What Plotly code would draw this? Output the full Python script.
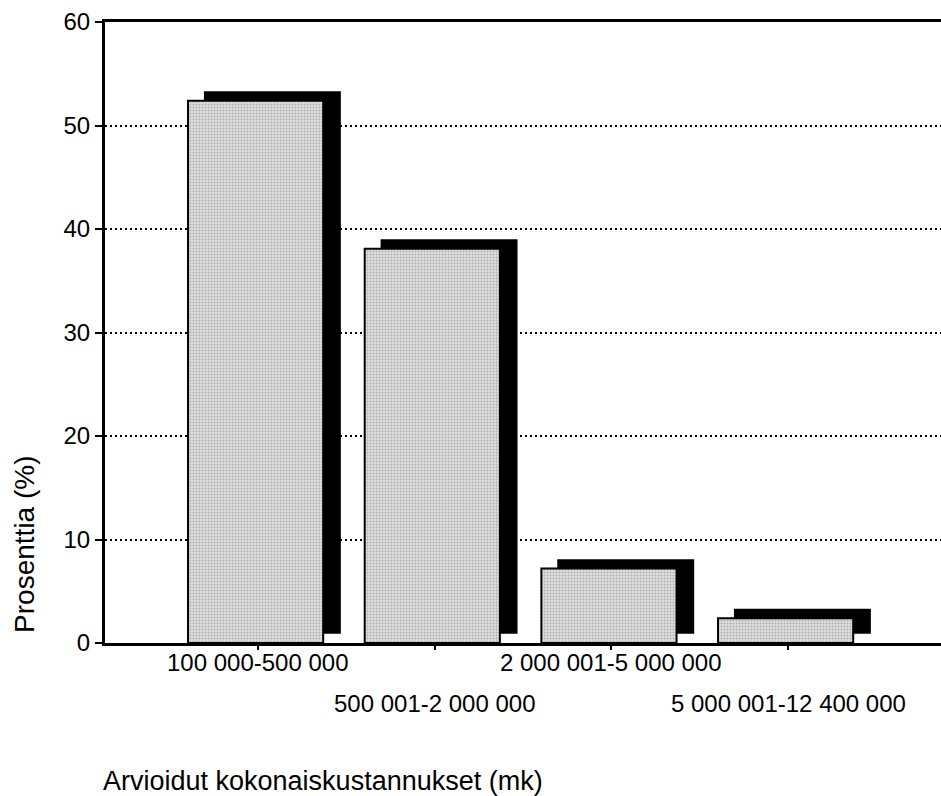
import plotly.graph_objects as go

categories = ["100 000-500 000", "500 001-2 000 000", "2 000 001-5 000 000", "5 000 001-12 400 000"]
values = [52.4, 38.1, 7.2, 2.4]
label_rows = [0, 1, 0, 1]
y_ticks = [0, 10, 20, 30, 40, 50, 60]
y_title = "Prosenttia (%)"
x_title = "Arvioidut kokonaiskustannukset (mk)"

FONT = "Liberation Sans, Arial, sans-serif"
xpos = list(range(len(categories)))

fig = go.Figure()
# shadow bars (black, shifted right and up)
fig.add_trace(go.Bar(
    x=xpos, y=values, base=[0.9] * len(values),
    width=0.775, offset=-0.306,
    marker=dict(color="black", line=dict(width=0)),
    hoverinfo="skip", showlegend=False,
))
# front bars (stippled light gray)
fig.add_trace(go.Bar(
    x=xpos, y=values,
    width=0.765, offset=-0.396,
    marker=dict(
        color="#dedede",
        line=dict(color="black", width=2),
        pattern=dict(shape=".", fgcolor="#7a7a7a", bgcolor="#e2e2e2", size=3, solidity=0.4),
    ),
    showlegend=False,
))

annotations = []
row_y = [-0.031, -0.097]
for i, (c, r) in enumerate(zip(categories, label_rows)):
    annotations.append(dict(
        x=i, y=row_y[r], xref="x", yref="paper", text=c, showarrow=False,
        xanchor="center", yanchor="middle",
        font=dict(family=FONT, size=24, color="black"),
    ))
annotations.append(dict(
    x=0, xshift=-80, y=0.158, xref="paper", yref="paper", text=y_title,
    textangle=-90, showarrow=False, xanchor="center", yanchor="middle",
    font=dict(family=FONT, size=28, color="black"),
))
annotations.append(dict(
    x=0, xshift=-4, y=-0.222, xref="paper", yref="paper", text=x_title,
    showarrow=False, xanchor="left", yanchor="middle",
    font=dict(family=FONT, size=27, color="black"),
))

fig.update_layout(
    width=941, height=796,
    margin=dict(l=105, r=0, t=22, b=153),
    paper_bgcolor="white", plot_bgcolor="white",
    barmode="overlay",
    annotations=annotations,
    font=dict(family=FONT, color="black"),
)
fig.update_xaxes(
    range=[-0.866, 3.866], tickvals=xpos, ticktext=[""] * len(xpos),
    showgrid=False, zeroline=False,
    showline=True, linecolor="black", linewidth=2.5, mirror=True,
    ticks="outside", ticklen=4, tickwidth=2, tickcolor="black",
)
fig.update_yaxes(
    range=[0, 60], tickvals=y_ticks,
    showgrid=True, gridcolor="black", gridwidth=2, griddash="2px,3px",
    zeroline=False, showline=True, linecolor="black", linewidth=3,
    ticks="outside", ticklen=7, tickwidth=2, tickcolor="black",
    tickfont=dict(family=FONT, size=24, color="black"),
    layer="above traces",
)

fig.write_html("out.html")
